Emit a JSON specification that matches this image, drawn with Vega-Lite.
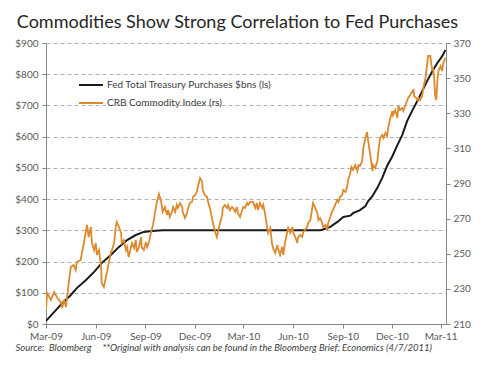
{
  "$schema": "https://vega.github.io/schema/vega-lite/v6.json",
  "width": 400,
  "height": 281,
  "autosize": {"type": "none"},
  "padding": {"left": 46, "top": 43, "right": 44, "bottom": 47},
  "background": "white",
  "title": {"text": "Commodities Show Strong Correlation to Fed Purchases", "anchor": "start", "dx": 2, "fontSize": 18, "font": "Lato", "fontWeight": "normal", "color": "#262626", "offset": 6},
  "config": {"view": {"stroke": null}, "font": "Lato"},
  "layer": [
    {
      "data": {"values": [
        {"date": "2009-03-01", "value": 10}, {"date": "2009-03-16", "value": 38}, {"date": "2009-03-31", "value": 67},
        {"date": "2009-04-16", "value": 93}, {"date": "2009-04-27", "value": 115}, {"date": "2009-05-14", "value": 141},
        {"date": "2009-05-29", "value": 167}, {"date": "2009-06-12", "value": 195}, {"date": "2009-06-29", "value": 221},
        {"date": "2009-07-14", "value": 247}, {"date": "2009-07-29", "value": 269}, {"date": "2009-08-14", "value": 285},
        {"date": "2009-08-29", "value": 295}, {"date": "2009-09-13", "value": 298}, {"date": "2009-10-03", "value": 300},
        {"date": "2010-07-21", "value": 300}, {"date": "2010-07-25", "value": 302}, {"date": "2010-08-09", "value": 311},
        {"date": "2010-08-22", "value": 327}, {"date": "2010-09-02", "value": 343}, {"date": "2010-09-15", "value": 347},
        {"date": "2010-09-20", "value": 355}, {"date": "2010-10-03", "value": 365}, {"date": "2010-10-13", "value": 378},
        {"date": "2010-10-18", "value": 394}, {"date": "2010-10-26", "value": 410}, {"date": "2010-11-04", "value": 436},
        {"date": "2010-11-13", "value": 468}, {"date": "2010-11-22", "value": 506}, {"date": "2010-12-02", "value": 538},
        {"date": "2010-12-11", "value": 573}, {"date": "2010-12-20", "value": 605}, {"date": "2010-12-29", "value": 650},
        {"date": "2011-01-08", "value": 685}, {"date": "2011-01-17", "value": 714}, {"date": "2011-01-26", "value": 746},
        {"date": "2011-02-04", "value": 778}, {"date": "2011-02-14", "value": 810}, {"date": "2011-02-23", "value": 836},
        {"date": "2011-03-04", "value": 858}, {"date": "2011-03-10", "value": 878}
      ]},
      "mark": {"type": "line", "strokeWidth": 2, "clip": true},
      "encoding": {
        "x": {"field": "date", "type": "temporal",
          "scale": {"domain": [{"year": 2009, "month": 3, "date": 1}, {"year": 2011, "month": 3, "date": 11}]},
          "axis": {
            "values": [{"year": 2009, "month": 3, "date": 1}, {"year": 2009, "month": 6, "date": 1}, {"year": 2009, "month": 9, "date": 1}, {"year": 2009, "month": 12, "date": 1}, {"year": 2010, "month": 3, "date": 1}, {"year": 2010, "month": 6, "date": 1}, {"year": 2010, "month": 9, "date": 1}, {"year": 2010, "month": 12, "date": 1}, {"year": 2011, "month": 3, "date": 1}],
            "format": "%b-%y", "grid": false, "labelFontSize": 10, "labelColor": "#595959", "labelPadding": 3,
            "tickSize": 4, "tickColor": "#868686", "domainColor": "#868686", "labelFlush": false,
            "title": "Source:\u00a0\u00a0Bloomberg\u00a0\u00a0\u00a0\u00a0\u00a0**Original with analysis can be found in the Bloomberg Brief: Economics (4/7/2011)",
            "titleFontStyle": "italic", "titleFontWeight": "normal", "titleFontSize": 9.5, "titleColor": "#404040",
            "titleAnchor": "start", "titleAlign": "left", "titleX": -31, "titleY": 26, "titleBaseline": "alphabetic", "titleLimit": 480
          }},
        "y": {"field": "value", "type": "quantitative",
          "scale": {"domain": [0, 900], "nice": false},
          "axis": {"orient": "left", "values": [0, 100, 200, 300, 400, 500, 600, 700, 800, 900], "format": "$,.0f", "title": null,
            "grid": true, "gridDash": [4, 3], "gridColor": "#b0b0b0", "labelFontSize": 10, "labelColor": "#595959",
            "tickSize": 4, "tickColor": "#868686", "domainColor": "#868686", "labelPadding": 4}},
        "color": {"datum": "Fed Total Treasury Purchases $bns (ls)", "type": "nominal",
          "scale": {"domain": ["Fed Total Treasury Purchases $bns (ls)", "CRB Commodity Index (rs)"], "range": ["#1a1a1a", "#dd8a2e"]},
          "legend": {"orient": "none", "legendX": 32, "legendY": 29, "title": null, "symbolType": "stroke", "symbolSize": 576,
            "symbolStrokeWidth": 2, "labelFontSize": 10, "labelColor": "#404040", "rowPadding": -7, "labelOffset": 3, "labelLimit": 400}}
      }
    },
    {
      "data": {"values": [
        {"date": "2009-03-01", "value": 218.0}, {"date": "2009-03-03", "value": 227.7}, {"date": "2009-03-10", "value": 223.7},
        {"date": "2009-03-16", "value": 228.2}, {"date": "2009-03-21", "value": 225.4}, {"date": "2009-03-29", "value": 222.0},
        {"date": "2009-03-31", "value": 219.1}, {"date": "2009-04-03", "value": 223.7}, {"date": "2009-04-07", "value": 219.7},
        {"date": "2009-04-09", "value": 225.4}, {"date": "2009-04-12", "value": 233.3}, {"date": "2009-04-16", "value": 242.5},
        {"date": "2009-04-21", "value": 243.6}, {"date": "2009-04-25", "value": 240.7}, {"date": "2009-04-27", "value": 245.3},
        {"date": "2009-05-04", "value": 246.4}, {"date": "2009-05-10", "value": 256.1}, {"date": "2009-05-16", "value": 266.4},
        {"date": "2009-05-19", "value": 259.5}, {"date": "2009-05-23", "value": 265.2}, {"date": "2009-05-25", "value": 256.1},
        {"date": "2009-05-29", "value": 252.1}, {"date": "2009-06-01", "value": 256.1}, {"date": "2009-06-03", "value": 249.3},
        {"date": "2009-06-07", "value": 252.1}, {"date": "2009-06-11", "value": 242.5}, {"date": "2009-06-12", "value": 233.3},
        {"date": "2009-06-16", "value": 231.1}, {"date": "2009-06-20", "value": 236.8}, {"date": "2009-06-22", "value": 239.6},
        {"date": "2009-06-25", "value": 244.7}, {"date": "2009-06-29", "value": 250.4}, {"date": "2009-07-01", "value": 252.1},
        {"date": "2009-07-05", "value": 256.1}, {"date": "2009-07-08", "value": 265.2}, {"date": "2009-07-10", "value": 268.1},
        {"date": "2009-07-14", "value": 265.2}, {"date": "2009-07-18", "value": 261.8}, {"date": "2009-07-19", "value": 256.1},
        {"date": "2009-07-23", "value": 257.8}, {"date": "2009-07-27", "value": 252.1}, {"date": "2009-07-29", "value": 253.8},
        {"date": "2009-08-01", "value": 248.1}, {"date": "2009-08-05", "value": 253.3}, {"date": "2009-08-07", "value": 256.1},
        {"date": "2009-08-11", "value": 253.3}, {"date": "2009-08-14", "value": 257.8}, {"date": "2009-08-16", "value": 251.0},
        {"date": "2009-08-20", "value": 253.8}, {"date": "2009-08-24", "value": 259.5}, {"date": "2009-08-25", "value": 253.8},
        {"date": "2009-08-29", "value": 252.1}, {"date": "2009-09-02", "value": 256.7}, {"date": "2009-09-04", "value": 253.8},
        {"date": "2009-09-07", "value": 256.1}, {"date": "2009-09-11", "value": 261.8}, {"date": "2009-09-15", "value": 266.4},
        {"date": "2009-09-19", "value": 273.8}, {"date": "2009-09-22", "value": 279.5}, {"date": "2009-09-26", "value": 284.0},
        {"date": "2009-09-30", "value": 279.5}, {"date": "2009-10-03", "value": 273.8}, {"date": "2009-10-07", "value": 276.6},
        {"date": "2009-10-11", "value": 272.1}, {"date": "2009-10-13", "value": 274.9}, {"date": "2009-10-16", "value": 270.9},
        {"date": "2009-10-20", "value": 273.8}, {"date": "2009-10-22", "value": 276.6}, {"date": "2009-10-26", "value": 273.8},
        {"date": "2009-10-29", "value": 277.8}, {"date": "2009-10-31", "value": 276.1}, {"date": "2009-11-04", "value": 278.9},
        {"date": "2009-11-08", "value": 276.6}, {"date": "2009-11-09", "value": 273.8}, {"date": "2009-11-13", "value": 270.4},
        {"date": "2009-11-17", "value": 273.2}, {"date": "2009-11-19", "value": 276.1}, {"date": "2009-11-22", "value": 278.9},
        {"date": "2009-11-26", "value": 279.5}, {"date": "2009-11-28", "value": 282.3}, {"date": "2009-12-02", "value": 283.5},
        {"date": "2009-12-05", "value": 285.2}, {"date": "2009-12-07", "value": 288.0}, {"date": "2009-12-11", "value": 293.1},
        {"date": "2009-12-15", "value": 290.9}, {"date": "2009-12-16", "value": 286.3}, {"date": "2009-12-20", "value": 283.5},
        {"date": "2009-12-24", "value": 282.3}, {"date": "2009-12-26", "value": 279.5}, {"date": "2009-12-29", "value": 276.1},
        {"date": "2010-01-02", "value": 270.4}, {"date": "2010-01-04", "value": 267.5}, {"date": "2010-01-08", "value": 262.4},
        {"date": "2010-01-11", "value": 259.5}, {"date": "2010-01-13", "value": 262.4}, {"date": "2010-01-17", "value": 267.5},
        {"date": "2010-01-21", "value": 272.1}, {"date": "2010-01-22", "value": 276.1}, {"date": "2010-01-26", "value": 277.8},
        {"date": "2010-01-30", "value": 276.1}, {"date": "2010-02-01", "value": 277.8}, {"date": "2010-02-04", "value": 274.9},
        {"date": "2010-02-08", "value": 276.6}, {"date": "2010-02-10", "value": 276.1}, {"date": "2010-02-14", "value": 273.8},
        {"date": "2010-02-17", "value": 276.6}, {"date": "2010-02-19", "value": 273.2}, {"date": "2010-02-23", "value": 270.9},
        {"date": "2010-02-27", "value": 274.9}, {"date": "2010-03-01", "value": 276.6}, {"date": "2010-03-04", "value": 276.1},
        {"date": "2010-03-08", "value": 278.9}, {"date": "2010-03-10", "value": 277.8}, {"date": "2010-03-14", "value": 279.5},
        {"date": "2010-03-19", "value": 279.5}, {"date": "2010-03-23", "value": 276.1}, {"date": "2010-03-26", "value": 278.9},
        {"date": "2010-03-28", "value": 274.9}, {"date": "2010-04-01", "value": 278.9}, {"date": "2010-04-05", "value": 276.1},
        {"date": "2010-04-07", "value": 277.8}, {"date": "2010-04-10", "value": 273.2}, {"date": "2010-04-14", "value": 265.2},
        {"date": "2010-04-16", "value": 261.8}, {"date": "2010-04-20", "value": 264.7}, {"date": "2010-04-23", "value": 256.1},
        {"date": "2010-04-25", "value": 253.3}, {"date": "2010-04-29", "value": 250.4}, {"date": "2010-05-03", "value": 255.0},
        {"date": "2010-05-04", "value": 253.3}, {"date": "2010-05-08", "value": 249.3}, {"date": "2010-05-12", "value": 253.8},
        {"date": "2010-05-14", "value": 249.3}, {"date": "2010-05-17", "value": 256.1}, {"date": "2010-05-21", "value": 261.8},
        {"date": "2010-05-23", "value": 264.7}, {"date": "2010-05-27", "value": 261.8}, {"date": "2010-05-31", "value": 265.2},
        {"date": "2010-06-01", "value": 262.4}, {"date": "2010-06-05", "value": 259.5}, {"date": "2010-06-09", "value": 256.1},
        {"date": "2010-06-10", "value": 259.0}, {"date": "2010-06-14", "value": 260.7}, {"date": "2010-06-18", "value": 259.5},
        {"date": "2010-06-20", "value": 262.4}, {"date": "2010-06-23", "value": 263.5}, {"date": "2010-06-27", "value": 265.2},
        {"date": "2010-06-29", "value": 267.5}, {"date": "2010-07-03", "value": 269.2}, {"date": "2010-07-06", "value": 274.9},
        {"date": "2010-07-08", "value": 278.9}, {"date": "2010-07-12", "value": 276.1}, {"date": "2010-07-16", "value": 273.2},
        {"date": "2010-07-18", "value": 269.2}, {"date": "2010-07-21", "value": 270.4}, {"date": "2010-07-25", "value": 267.5},
        {"date": "2010-07-27", "value": 265.2}, {"date": "2010-07-31", "value": 266.4}, {"date": "2010-08-03", "value": 263.5},
        {"date": "2010-08-05", "value": 267.5}, {"date": "2010-08-09", "value": 270.9}, {"date": "2010-08-12", "value": 273.8},
        {"date": "2010-08-14", "value": 274.9}, {"date": "2010-08-18", "value": 277.8}, {"date": "2010-08-22", "value": 280.6},
        {"date": "2010-08-24", "value": 279.5}, {"date": "2010-08-27", "value": 282.3}, {"date": "2010-08-31", "value": 283.5},
        {"date": "2010-09-02", "value": 286.3}, {"date": "2010-09-06", "value": 285.2}, {"date": "2010-09-09", "value": 288.0},
        {"date": "2010-09-11", "value": 292.0}, {"date": "2010-09-15", "value": 296.0}, {"date": "2010-09-17", "value": 299.4},
        {"date": "2010-09-20", "value": 297.7}, {"date": "2010-09-24", "value": 300.5}, {"date": "2010-09-28", "value": 297.1},
        {"date": "2010-09-30", "value": 300.5}, {"date": "2010-10-03", "value": 300.0}, {"date": "2010-10-07", "value": 302.8},
        {"date": "2010-10-09", "value": 310.2}, {"date": "2010-10-13", "value": 315.9}, {"date": "2010-10-16", "value": 319.3},
        {"date": "2010-10-18", "value": 314.2}, {"date": "2010-10-22", "value": 306.2}, {"date": "2010-10-26", "value": 297.1},
        {"date": "2010-10-27", "value": 300.5}, {"date": "2010-10-31", "value": 298.8}, {"date": "2010-11-04", "value": 302.8},
        {"date": "2010-11-06", "value": 308.5}, {"date": "2010-11-09", "value": 315.9}, {"date": "2010-11-13", "value": 317.6},
        {"date": "2010-11-15", "value": 315.9}, {"date": "2010-11-19", "value": 318.8}, {"date": "2010-11-22", "value": 317.0},
        {"date": "2010-11-24", "value": 321.6}, {"date": "2010-11-28", "value": 327.3}, {"date": "2010-12-02", "value": 331.3},
        {"date": "2010-12-03", "value": 329.0}, {"date": "2010-12-07", "value": 331.9}, {"date": "2010-12-11", "value": 327.3},
        {"date": "2010-12-13", "value": 334.1}, {"date": "2010-12-16", "value": 331.9}, {"date": "2010-12-20", "value": 333.0},
        {"date": "2010-12-22", "value": 331.3}, {"date": "2010-12-26", "value": 334.7}, {"date": "2010-12-29", "value": 337.0},
        {"date": "2010-12-31", "value": 338.7}, {"date": "2011-01-04", "value": 340.4}, {"date": "2011-01-08", "value": 342.7},
        {"date": "2011-01-10", "value": 343.2}, {"date": "2011-01-11", "value": 339.8}, {"date": "2011-01-15", "value": 338.7},
        {"date": "2011-01-17", "value": 337.5}, {"date": "2011-01-19", "value": 338.7}, {"date": "2011-01-22", "value": 337.5},
        {"date": "2011-01-26", "value": 339.8}, {"date": "2011-01-28", "value": 344.4}, {"date": "2011-02-01", "value": 350.1},
        {"date": "2011-02-04", "value": 357.5}, {"date": "2011-02-06", "value": 362.6}, {"date": "2011-02-10", "value": 362.6},
        {"date": "2011-02-12", "value": 357.5}, {"date": "2011-02-14", "value": 354.1}, {"date": "2011-02-15", "value": 355.8},
        {"date": "2011-02-17", "value": 350.1}, {"date": "2011-02-19", "value": 339.8}, {"date": "2011-02-21", "value": 337.5},
        {"date": "2011-02-23", "value": 348.4}, {"date": "2011-02-25", "value": 354.1}, {"date": "2011-03-01", "value": 356.9},
        {"date": "2011-03-04", "value": 354.1}, {"date": "2011-03-06", "value": 358.6}, {"date": "2011-03-10", "value": 361.5}
      ]},
      "mark": {"type": "line", "strokeWidth": 1.8, "clip": true},
      "encoding": {
        "x": {"field": "date", "type": "temporal"},
        "y": {"field": "value", "type": "quantitative",
          "scale": {"domain": [210, 370], "nice": false},
          "axis": {"orient": "right", "values": [210, 230, 250, 270, 290, 310, 330, 350, 370], "title": null, "grid": false,
            "labelFontSize": 10, "labelColor": "#595959", "tickSize": 4, "tickColor": "#868686", "domainColor": "#868686", "labelPadding": 3}},
        "color": {"datum": "CRB Commodity Index (rs)", "type": "nominal"}
      }
    }
  ],
  "resolve": {"scale": {"y": "independent"}}
}
